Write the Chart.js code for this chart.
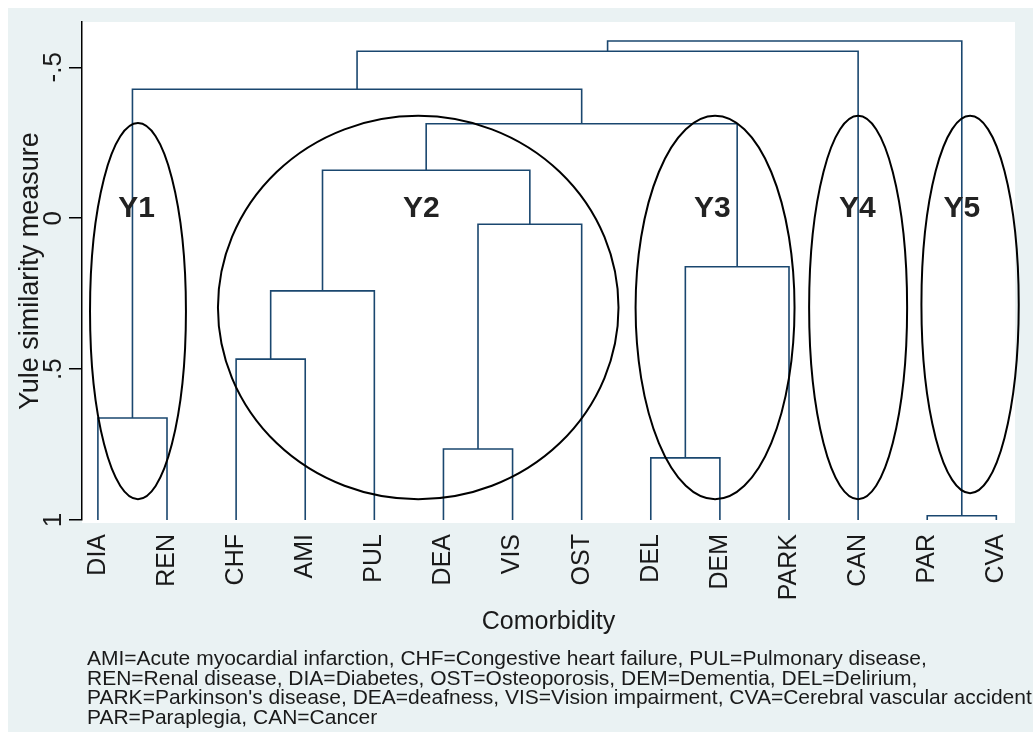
<!DOCTYPE html>
<html>
<head>
<meta charset="utf-8">
<script src="https://cdn.jsdelivr.net/npm/chart.js@4"></script>
<style>
  body { margin: 0; background: #fff; overflow: hidden; }
  canvas { display: block; }
</style>
</head>
<body>
<canvas id="chart1" width="1033" height="738"></canvas>
<script>
/* Dendrogram data */
const leaves = ['DIA', 'REN', 'CHF', 'AMI', 'PUL', 'DEA', 'VIS', 'OST', 'DEL', 'DEM', 'PARK', 'CAN', 'PAR', 'CVA'];

// leaves are nodes 0..13, merge k becomes node 14 + k
const mergeLeft = [0, 2, 15, 5, 17, 16, 8, 20, 19, 14, 23, 12, 24];
const mergeRight = [1, 3, 4, 6, 7, 18, 9, 10, 21, 22, 11, 13, 25];
const mergeHeight = [0.662, 0.467, 0.241, 0.765, 0.02, -0.159, 0.794, 0.161, -0.313, -0.427, -0.553, 0.986, -0.587];

const leafHeight = 1;

const yTicks = [-0.5, 0, 0.5, 1];
const yTickLabels = ['-.5', '0', '.5', '1'];

const clusterNames = ['Y1', 'Y2', 'Y3', 'Y4', 'Y5'];

const noteLines = [
    'AMI=Acute myocardial infarction, CHF=Congestive heart failure, PUL=Pulmonary disease,',
    'REN=Renal disease, DIA=Diabetes, OST=Osteoporosis, DEM=Dementia, DEL=Delirium,',
    "PARK=Parkinson's disease, DEA=deafness, VIS=Vision impairment, CVA=Cerebral vascular accident",
    'PAR=Paraplegia, CAN=Cancer'
];

/* cluster rings drawn by hand on the graph (centre, radii in axis units) */
const rings = [
    { cx: 1.58, cy: 0.308, rx: 0.694, ry: 0.623, lx: 1.56 },
    { cx: 5.635, cy: 0.296, rx: 2.898, ry: 0.635, lx: 5.68 },
    { cx: 9.93, cy: 0.296, rx: 1.15, ry: 0.635, lx: 9.89 },
    { cx: 12.0, cy: 0.296, rx: 0.709, ry: 0.635, lx: 11.99 },
    { cx: 13.62, cy: 0.286, rx: 0.704, ry: 0.625, lx: 13.5 }
];

const lineColor = '#1a476f';
const textColor = '#1a1a1a';
const fontFamily = '"Liberation Sans", Arial, sans-serif';

// node positions: leaves sit at 1..n, merges sit between their children
const nodeX = leaves.map((_, i) => i + 1);
const nodeH = leaves.map(() => leafHeight);
mergeHeight.forEach((h, k) => {
    nodeX.push((nodeX[mergeLeft[k]] + nodeX[mergeRight[k]]) / 2);
    nodeH.push(h);
});

const datasets = mergeHeight.map((h, k) => {
    const a = mergeLeft[k];
    const b = mergeRight[k];
    return {
        data: [
            { x: nodeX[a], y: nodeH[a] },
            { x: nodeX[a], y: h },
            { x: nodeX[b], y: h },
            { x: nodeX[b], y: nodeH[b] }
        ],
        showLine: true,
        borderColor: lineColor,
        borderWidth: 1.6,
        pointRadius: 0,
        tension: 0,
        fill: false
    };
});

/* backgrounds: graph region and plot region */
const backdrop = {
    id: 'backdrop',
    beforeDraw(chart) {
        const c = chart.ctx;
        const a = chart.chartArea;
        c.save();
        c.fillStyle = '#ffffff';
        c.fillRect(0, 0, chart.width, chart.height);
        c.fillStyle = '#eaf2f3';
        c.fillRect(8, 8, chart.width - 8, chart.height - 14);
        c.fillStyle = '#ffffff';
        c.fillRect(a.left, a.top, a.right - a.left, a.bottom - a.top + 3);
        c.restore();
    }
};

/* ellipses + Y1..Y5 labels */
const clusters = {
    id: 'clusters',
    afterDatasetsDraw(chart) {
        const c = chart.ctx;
        const xs = chart.scales.x;
        const ys = chart.scales.y;
        c.save();
        c.strokeStyle = '#000';
        c.lineWidth = 2;
        rings.forEach((r, i) => {
            const px = xs.getPixelForValue(r.cx);
            const py = ys.getPixelForValue(r.cy);
            const rx = Math.abs(xs.getPixelForValue(r.cx + r.rx) - px);
            const ry = Math.abs(ys.getPixelForValue(r.cy + r.ry) - py);
            c.beginPath();
            c.ellipse(px, py, rx, ry, 0, 0, Math.PI * 2);
            c.stroke();
            c.fillStyle = '#222';
            c.font = 'bold 30px ' + fontFamily;
            c.textAlign = 'center';
            c.textBaseline = 'middle';
            c.fillText(clusterNames[i], xs.getPixelForValue(r.lx), ys.getPixelForValue(-0.03));
        });
        c.restore();
    }
};

/* note under the axis title */
const note = {
    id: 'note',
    afterDraw(chart) {
        const c = chart.ctx;
        c.save();
        c.fillStyle = textColor;
        c.font = '21px ' + fontFamily;
        c.textAlign = 'left';
        c.textBaseline = 'alphabetic';
        noteLines.forEach((t, i) => c.fillText(t, 87, 665 + i * 19.5));
        c.restore();
    }
};

const ctx = document.getElementById('chart1');

const config = {
    type: 'scatter',
    data: { datasets },
    options: {
        responsive: false,
        animation: false,
        events: [],
        layout: { padding: { top: 22, right: 18, bottom: 0, left: 0 } },
        plugins: {
            legend: { display: false },
            tooltip: { enabled: false }
        },
        scales: {
            x: {
                type: 'linear',
                min: 0.77,
                max: 14.27,
                afterBuildTicks: (axis) => { axis.ticks = leaves.map((_, i) => ({ value: i + 1 })); },
                afterFit: (axis) => { axis.height = 218; axis.paddingLeft = 0; axis.paddingRight = 0; },
                ticks: {
                    autoSkip: false,
                    minRotation: 90,
                    maxRotation: 90,
                    padding: 6,
                    color: textColor,
                    font: { family: fontFamily, size: 25 },
                    callback: (v) => leaves[v - 1]
                },
                grid: { display: false },
                border: { display: false },
                title: {
                    display: true,
                    text: 'Comorbidity',
                    color: textColor,
                    font: { family: fontFamily, size: 25 },
                    padding: { top: 0, bottom: 101 }
                }
            },
            y: {
                type: 'linear',
                reverse: true,
                min: -0.65,
                max: 1,
                afterBuildTicks: (axis) => { axis.ticks = yTicks.map(v => ({ value: v })); },
                afterFit: (axis) => { axis.width = 82; axis.paddingTop = 0; axis.paddingBottom = 0; },
                ticks: {
                    minRotation: 90,
                    maxRotation: 90,
                    crossAlign: 'center',
                    padding: 0,
                    color: textColor,
                    font: { family: fontFamily, size: 26 },
                    callback: (v) => yTickLabels[yTicks.indexOf(v)]
                },
                grid: { drawOnChartArea: false, drawTicks: true, tickLength: 13, color: '#000', lineWidth: 1.5 },
                border: { display: true, color: '#000', width: 1.5 },
                title: {
                    display: true,
                    text: 'Yule similarity measure',
                    color: textColor,
                    font: { family: fontFamily, size: 27 },
                    padding: { top: 14, bottom: 0 }
                }
            }
        }
    },
    plugins: [backdrop, clusters, note]
};

const chart1 = new Chart(ctx, config);
</script>
</body>
</html>
